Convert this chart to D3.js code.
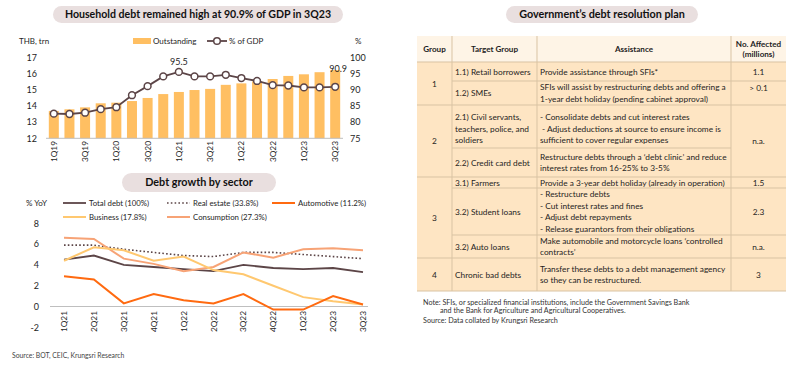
<!DOCTYPE html>
<html><head><meta charset="utf-8">
<script src="https://cdn.jsdelivr.net/npm/d3@7"></script>
<style>body{margin:0;background:#fff}svg{display:block;font-family:Lato,'Open Sans',sans-serif}</style>
</head><body><svg id="c" width="800" height="371"></svg>
<script>
// ---------- DATA ----------
const quarters = ["1Q19","2Q19","3Q19","4Q19","1Q20","2Q20","3Q20","4Q20","1Q21","2Q21","3Q21","4Q21","1Q22","2Q22","3Q22","4Q22","1Q23","2Q23","3Q23"];
const outstanding = [13.69,13.79,13.91,14.16,14.20,14.30,14.49,14.73,14.86,14.98,15.05,15.30,15.39,15.51,15.66,15.85,15.95,16.08,16.21];
const pctGDP = [82.6,82.5,82.9,84.0,84.6,88.3,91.1,94.1,95.5,94.1,94.1,94.6,93.6,92.7,91.4,91.3,90.7,90.7,90.9];
const leftTicks = [12,13,14,15,16,17];
const rightTicks = [75,80,85,90,95,100];

const sectorQuarters = ["1Q21","2Q21","3Q21","4Q21","1Q22","2Q22","3Q22","4Q22","1Q23","2Q23","3Q23"];
const totalDebt   = [4.5,4.9,4.0,3.8,3.6,3.4,4.0,3.7,3.6,3.7,3.3];
const realEstate  = [5.9,5.9,5.5,5.2,4.9,4.8,5.2,5.2,5.0,4.8,4.6];
const automotive  = [2.9,2.6,0.3,1.2,0.6,0.3,1.2,-0.3,-0.3,1.0,0.2];
const business    = [4.4,5.7,5.4,4.4,4.8,3.5,3.1,2.0,0.9,0.5,0.2];
const consumption = [6.6,6.5,4.6,4.1,3.4,3.8,5.2,4.7,5.5,5.6,5.4];
const sectorNames = ["Total debt (100%)","Real estate (33.8%)","Automotive (11.2%)","Business (17.8%)","Consumption (27.3%)"];
const growthTicks = [-2,0,2,4,6,8];

const tableHeaders = ["Group","Target Group","Assistance",["No. Affected","(millions)"]];
const rowGroup = ["1","1","2","2","3","3","3","4"];
const targetGroups = [["1.1) Retail borrowers"],["1.2) SMEs"],["2.1) Civil servants,","teachers, police, and","soldiers"],["2.2) Credit card debt"],["3.1) Farmers"],["3.2) Student loans"],["3.2) Auto loans"],["Chronic bad debts"]];
const assistance = [
 ["Provide assistance through SFIs*"],
 ["SFIs will assist by restructuring debts and offering a","1-year debt holiday (pending cabinet approval)"],
 ["- Consolidate debts and cut interest rates"," - Adjust deductions at source to ensure income is","sufficient to cover regular expenses"],
 ["Restructure debts through a \u2018debt clinic\u2019 and reduce","interest rates from 16-25% to 3-5%"],
 ["Provide a 3-year debt holiday (already in operation)"],
 ["- Restructure debts","- Cut interest rates and fines","- Adjust debt repayments","- Release guarantors from their obligations"],
 ["Make automobile and motorcycle loans \u2018controlled","contracts\u2019"],
 ["Transfer these debts to a debt management agency","so they can be restructured."]
];
const affected = ["1.1","> 0.1","n.a.",null,"1.5","2.3","n.a.","3"];
const affectedSpan = [1,1,2,0,1,1,1,1];

// ---------- DRAW ----------
const svg = d3.select("#c");
const pillFill = "#e9dfdf", txt = "#1e1e1e";

function pill(x0,x1,y0,y1,label,fs){
  svg.append("rect").attr("x",x0).attr("y",y0).attr("width",x1-x0).attr("height",y1-y0)
    .attr("rx",(y1-y0)/2).attr("fill",pillFill);
  svg.append("text").attr("x",(x0+x1)/2).attr("y",(y0+y1)/2+fs*0.36).attr("text-anchor","middle")
    .attr("font-weight","bold").attr("font-size",fs).attr("fill","#111").text(label);
}
pill(53,343,6,23,"Household debt remained high at 90.9% of GDP in 3Q23",10.6);
pill(122,276,173,192,"Debt growth by sector",10.8);
pill(506,698,6,23,"Government\u2019s debt resolution plan",10.8);

// Chart 1
const x1 = d3.scaleBand().domain(quarters).range([46,343]).paddingInner(0.36).paddingOuter(0.18);
const yL = d3.scaleLinear().domain([12,17]).range([138.3,57.3]);
const yR = d3.scaleLinear().domain([75,100]).range([138.3,57.3]);
const barC = "#ffbf62", lineC = "#5c4547";
const g1 = svg.append("g");
g1.selectAll("rect.bar").data(quarters).enter().append("rect").attr("class","bar")
  .attr("x",d=>x1(d)).attr("width",x1.bandwidth())
  .attr("y",(d,i)=>yL(outstanding[i])).attr("height",(d,i)=>yL(12)-yL(outstanding[i])).attr("fill",barC);
g1.append("line").attr("x1",46).attr("x2",343).attr("y1",yL(12)).attr("y2",yL(12)).attr("stroke","#bfbfbf").attr("stroke-width",1);
const cx1 = d=>x1(d)+x1.bandwidth()/2;
g1.append("path").datum(quarters).attr("fill","none").attr("stroke",lineC).attr("stroke-width",1.8)
  .attr("d",d3.line().x(d=>cx1(d)).y((d,i)=>yR(pctGDP[i])));
g1.selectAll("circle.pt").data(quarters).enter().append("circle").attr("class","pt")
  .attr("cx",d=>cx1(d)).attr("cy",(d,i)=>yR(pctGDP[i])).attr("r",3.4)
  .attr("fill","#fff").attr("stroke",lineC).attr("stroke-width",1.5);
g1.selectAll("text.yl").data(leftTicks).enter().append("text").attr("class","yl")
  .attr("x",37).attr("y",d=>yL(d)+3.2).attr("text-anchor","end").attr("font-size",9).attr("fill",txt).text(d=>d);
g1.selectAll("text.yr").data(rightTicks).enter().append("text").attr("class","yr")
  .attr("x",350).attr("y",d=>yR(d)+3.2).attr("font-size",9).attr("fill",txt).text(d=>d);
g1.selectAll("text.xl").data(quarters.filter((d,i)=>i%2===0)).enter().append("text").attr("class","xl")
  .attr("transform",d=>`translate(${cx1(d)+3},141) rotate(-90)`).attr("text-anchor","end")
  .attr("font-size",8.3).attr("fill",txt).text(d=>d);
svg.append("text").attr("x",19).attr("y",44).attr("font-size",8).attr("fill",txt).text("THB, trn");
svg.append("text").attr("x",355).attr("y",44).attr("font-size",8).attr("fill",txt).text("%");
// annotations
const iMax = 8, iLast = quarters.length-1;
svg.append("text").attr("x",cx1(quarters[iMax])).attr("y",yR(pctGDP[iMax])-7).attr("text-anchor","middle")
  .attr("font-size",9).attr("fill",txt).text(pctGDP[iMax].toFixed(1));
svg.append("text").attr("x",cx1(quarters[iLast])+3).attr("y",yR(pctGDP[iLast])-15).attr("text-anchor","middle")
  .attr("font-size",9).attr("fill",txt).text(pctGDP[iLast].toFixed(1));
// legend
svg.append("rect").attr("x",133).attr("y",38).attr("width",18).attr("height",6).attr("fill",barC);
svg.append("text").attr("x",153).attr("y",44).attr("font-size",8).attr("fill",txt).text("Outstanding");
svg.append("line").attr("x1",207).attr("x2",227).attr("y1",41).attr("y2",41).attr("stroke",lineC).attr("stroke-width",1.8);
svg.append("circle").attr("cx",217).attr("cy",41).attr("r",3.3).attr("fill","#fff").attr("stroke",lineC).attr("stroke-width",1.5);
svg.append("text").attr("x",229).attr("y",44).attr("font-size",8).attr("fill",txt).text("% of GDP");

// Chart 2
const x2 = d3.scalePoint().domain(sectorQuarters).range([64,363]);
const y2 = d3.scaleLinear().domain([-2,8]).range([327.3,223.3]);
const g2 = svg.append("g");
g2.append("line").attr("x1",50).attr("x2",368).attr("y1",y2(0)).attr("y2",y2(0)).attr("stroke","#bfbfbf").attr("stroke-width",1.2);
const series = [
  {name:sectorNames[0],vals:totalDebt,color:"#5c4547",dash:null,w:1.8},
  {name:sectorNames[1],vals:realEstate,color:"#5c4547",dash:"1.6,2.2",w:1.6},
  {name:sectorNames[2],vals:automotive,color:"#ff6a10",dash:null,w:2},
  {name:sectorNames[3],vals:business,color:"#ffc870",dash:null,w:2},
  {name:sectorNames[4],vals:consumption,color:"#f7a376",dash:null,w:2}
];
const drawOrder = [1,0,4,3,2];
drawOrder.forEach(k=>{
  const s = series[k];
  g2.append("path").datum(s.vals).attr("fill","none").attr("stroke",s.color).attr("stroke-width",s.w)
    .attr("stroke-dasharray",s.dash).attr("d",d3.line().x((d,i)=>x2(sectorQuarters[i])).y(d=>y2(d)));
});
g2.selectAll("text.y2").data(growthTicks).enter().append("text").attr("class","y2")
  .attr("x",39).attr("y",d=>y2(d)+3.2).attr("text-anchor","end").attr("font-size",9).attr("fill",txt).text(d=>d);
g2.selectAll("text.x2").data(sectorQuarters).enter().append("text").attr("class","x2")
  .attr("transform",d=>`translate(${x2(d)+3},311) rotate(-90)`).attr("text-anchor","end")
  .attr("font-size",8.3).attr("fill",txt).text(d=>d);
svg.append("text").attr("x",26).attr("y",206).attr("font-size",8).attr("fill",txt).text("% YoY");
const legPos = [[63,203],[167,203],[272,203],[63,217],[167,217]];
series.forEach((s,k)=>{
  const [lx,ly] = legPos[k];
  svg.append("line").attr("x1",lx).attr("x2",lx+23).attr("y1",ly).attr("y2",ly).attr("stroke",s.color)
    .attr("stroke-width",s.w).attr("stroke-dasharray",s.dash);
  svg.append("text").attr("x",lx+26).attr("y",ly+3).attr("font-size",7.8).attr("fill",txt).text(s.name);
});
svg.append("text").attr("x",12).attr("y",358).attr("font-size",6.8).attr("fill","#444").text("Source: BOT, CEIC, Krungsri Research");

// Table
const colX = [417,452,537,731,786];
const rowEdges = [36,62,81,105,148,177,188,235,258,291];
const rowShift = [0,0,2,0,0,0,0,0];
const lineH = 11.4, fsT = 8.3, lineC2 = "#d9c3a3";
const gt = svg.append("g");
gt.append("rect").attr("x",colX[0]).attr("y",rowEdges[0]).attr("width",colX[4]-colX[0]).attr("height",rowEdges[1]-rowEdges[0]).attr("fill","#fef4e6");
gt.append("rect").attr("x",colX[0]).attr("y",rowEdges[1]).attr("width",colX[4]-colX[0]).attr("height",rowEdges[rowEdges.length-1]-rowEdges[1]).attr("fill","#fee5c3");
// header text
tableHeaders.forEach((h,c)=>{
  const lines = Array.isArray(h)?h:[h];
  const cx = (colX[c]+colX[c+1])/2, cy=(rowEdges[0]+rowEdges[1])/2;
  lines.forEach((l,j)=>{
    gt.append("text").attr("x",cx).attr("y",cy+(j-(lines.length-1)/2)*10+2.9).attr("text-anchor","middle")
      .attr("font-weight","bold").attr("font-size",8.1).attr("fill",txt).text(l);
  });
});
// group spans
const groupNames = Array.from(new Set(rowGroup));
groupNames.forEach(gname=>{
  const idx = rowGroup.map((g,i)=>g===gname?i:-1).filter(i=>i>=0);
  const top = rowEdges[idx[0]+1], bot = rowEdges[idx[idx.length-1]+2];
  gt.append("text").attr("x",(colX[0]+colX[1])/2).attr("y",(top+bot)/2+3).attr("text-anchor","middle")
    .attr("font-size",fsT).attr("fill",txt).text(gname);
  gt.append("line").attr("x1",colX[0]).attr("x2",colX[4]).attr("y1",bot).attr("y2",bot).attr("stroke",lineC2).attr("stroke-width",1);
});
function block(lines,x,top,bot,anchor){
  const cy=(top+bot)/2;
  lines.forEach((l,j)=>{
    gt.append("text").attr("x",x).attr("y",cy+(j-(lines.length-1)/2)*lineH+3).attr("text-anchor",anchor)
      .attr("font-size",fsT).attr("fill",txt).style("white-space","pre").text(l);
  });
}
targetGroups.forEach((t,r)=>{
  const top=rowEdges[r+1], bot=rowEdges[r+2], sh=rowShift[r];
  block(t,colX[1]+3,top+sh,bot+sh,"start");
  block(assistance[r],colX[2]+3,top+sh,bot+sh,"start");
  if(r<targetGroups.length-1 && rowGroup[r]===rowGroup[r+1]){
    const xe = affectedSpan[r]===2 ? colX[3] : colX[4];
    gt.append("line").attr("x1",colX[1]).attr("x2",xe).attr("y1",bot).attr("y2",bot).attr("stroke",lineC2).attr("stroke-width",1);
  }
  if(affected[r]!==null){
    const span = affectedSpan[r];
    let b = rowEdges[r+1+span];
    if(affected[r]==="> 0.1"){ b = top+14; }
    block([affected[r]],(colX[3]+colX[4])/2,top,b,"middle");
  }
});
[1,2,3].forEach(c=>gt.append("line").attr("x1",colX[c]).attr("x2",colX[c]).attr("y1",rowEdges[0]).attr("y2",rowEdges[rowEdges.length-1]).attr("stroke",lineC2).attr("stroke-width",1));
gt.append("line").attr("x1",colX[0]).attr("x2",colX[4]).attr("y1",rowEdges[1]).attr("y2",rowEdges[1]).attr("stroke",lineC2).attr("stroke-width",1);
// notes
const notes = svg.append("g").attr("font-size",7.2).attr("fill","#333");
notes.append("text").attr("x",423).attr("y",304.5).text("Note: SFIs, or specialized financial institutions, include the Government Savings Bank");
notes.append("text").attr("x",440).attr("y",313).text("and the Bank for Agriculture and Agricultural Cooperatives.");
notes.append("text").attr("x",423).attr("y",322.5).text("Source: Data collated by Krungsri Research");
</script></body></html>
